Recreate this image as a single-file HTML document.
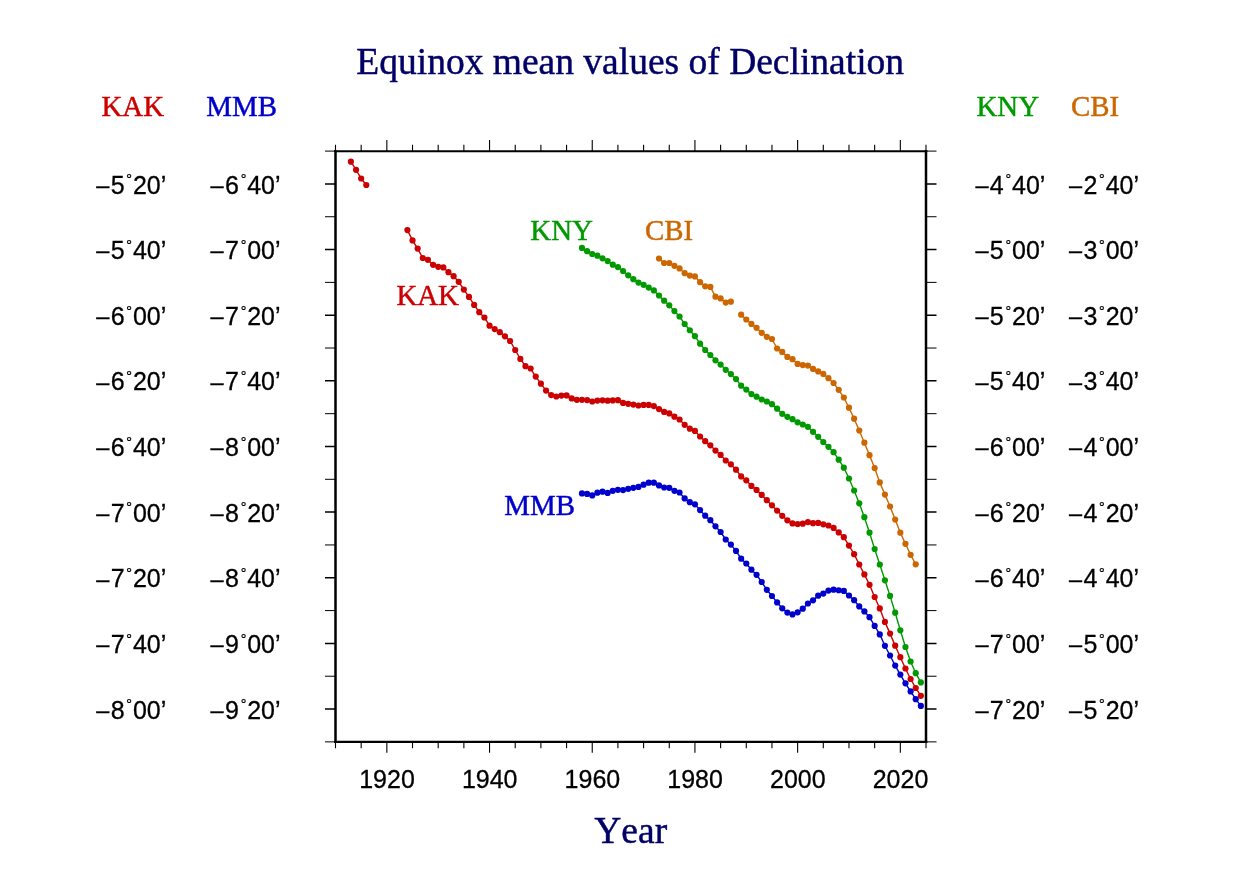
<!DOCTYPE html>
<html><head><meta charset="utf-8"><title>Equinox mean values of Declination</title>
<style>html,body{margin:0;padding:0;background:#fff;overflow:hidden;width:1235px;height:893px;}svg{display:block;}text{font-kerning:none;}</style></head>
<body><svg width="1235" height="893" viewBox="0 0 1235 893">
<rect width="1235" height="893" fill="#fff"/>
<path d="M335.50 150.05V742.91M926.00 150.05V742.91" stroke="#000" stroke-width="2.5" fill="none"/>
<path d="M334.25 151.25H927.25M334.25 741.86H927.25" stroke="#000" stroke-width="2.1" fill="none"/>
<path d="M325.00 183.92H335.50M926.00 183.92H936.50M325.00 249.56H335.50M926.00 249.56H936.50M325.00 315.20H335.50M926.00 315.20H936.50M325.00 380.84H335.50M926.00 380.84H936.50M325.00 446.48H335.50M926.00 446.48H936.50M325.00 512.12H335.50M926.00 512.12H936.50M325.00 577.76H335.50M926.00 577.76H936.50M325.00 643.40H335.50M926.00 643.40H936.50M325.00 709.04H335.50M926.00 709.04H936.50" stroke="#000" stroke-width="1.5" fill="none"/>
<path d="M325.00 151.10H335.50M926.00 151.10H936.50M325.00 216.74H335.50M926.00 216.74H936.50M325.00 282.38H335.50M926.00 282.38H936.50M325.00 348.02H335.50M926.00 348.02H936.50M325.00 413.66H335.50M926.00 413.66H936.50M325.00 479.30H335.50M926.00 479.30H936.50M325.00 544.94H335.50M926.00 544.94H936.50M325.00 610.58H335.50M926.00 610.58H936.50M325.00 676.22H335.50M926.00 676.22H936.50M325.00 741.86H335.50M926.00 741.86H936.50" stroke="#000" stroke-width="1.0" fill="none"/>
<path d="M335.50 151.10V144.80M335.50 741.86V748.16M361.17 151.10V144.80M361.17 741.86V748.16M386.85 151.10V140.10M386.85 741.86V752.86M412.52 151.10V144.80M412.52 741.86V748.16M438.20 151.10V144.80M438.20 741.86V748.16M463.87 151.10V144.80M463.87 741.86V748.16M489.54 151.10V140.10M489.54 741.86V752.86M515.22 151.10V144.80M515.22 741.86V748.16M540.89 151.10V144.80M540.89 741.86V748.16M566.57 151.10V144.80M566.57 741.86V748.16M592.24 151.10V140.10M592.24 741.86V752.86M617.91 151.10V144.80M617.91 741.86V748.16M643.59 151.10V144.80M643.59 741.86V748.16M669.26 151.10V144.80M669.26 741.86V748.16M694.93 151.10V140.10M694.93 741.86V752.86M720.61 151.10V144.80M720.61 741.86V748.16M746.28 151.10V144.80M746.28 741.86V748.16M771.96 151.10V144.80M771.96 741.86V748.16M797.63 151.10V140.10M797.63 741.86V752.86M823.30 151.10V144.80M823.30 741.86V748.16M848.98 151.10V144.80M848.98 741.86V748.16M874.65 151.10V144.80M874.65 741.86V748.16M900.33 151.10V140.10M900.33 741.86V752.86M926.00 151.10V144.80M926.00 741.86V748.16" stroke="#000" stroke-width="1.1" fill="none"/>
<g font-family="'Liberation Sans', Arial, Helvetica, sans-serif" font-size="25" fill="#000" stroke="#000" stroke-width="0.3"><text x="166.3" y="193.5" text-anchor="end"><tspan font-size="23.5" dy="-0.8">–</tspan><tspan dx="1.3" dy="0.8">5</tspan><tspan font-size="18" stroke-width="0.1" dx="2.00" dy="-4.3">˚</tspan><tspan dx="0.33" dy="4.3">20’</tspan></text><text x="280.6" y="193.5" text-anchor="end"><tspan font-size="23.5" dy="-0.8">–</tspan><tspan dx="1.3" dy="0.8">6</tspan><tspan font-size="18" stroke-width="0.1" dx="2.00" dy="-4.3">˚</tspan><tspan dx="0.33" dy="4.3">40’</tspan></text><text x="1045.4" y="193.5" text-anchor="end"><tspan font-size="23.5" dy="-0.8">–</tspan><tspan dx="1.3" dy="0.8">4</tspan><tspan font-size="18" stroke-width="0.1" dx="2.00" dy="-4.3">˚</tspan><tspan dx="0.33" dy="4.3">40’</tspan></text><text x="1139.0" y="193.5" text-anchor="end"><tspan font-size="23.5" dy="-0.8">–</tspan><tspan dx="1.3" dy="0.8">2</tspan><tspan font-size="18" stroke-width="0.1" dx="2.00" dy="-4.3">˚</tspan><tspan dx="0.33" dy="4.3">40’</tspan></text><text x="166.3" y="259.2" text-anchor="end"><tspan font-size="23.5" dy="-0.8">–</tspan><tspan dx="1.3" dy="0.8">5</tspan><tspan font-size="18" stroke-width="0.1" dx="2.00" dy="-4.3">˚</tspan><tspan dx="0.33" dy="4.3">40’</tspan></text><text x="280.6" y="259.2" text-anchor="end"><tspan font-size="23.5" dy="-0.8">–</tspan><tspan dx="1.3" dy="0.8">7</tspan><tspan font-size="18" stroke-width="0.1" dx="2.00" dy="-4.3">˚</tspan><tspan dx="0.33" dy="4.3">00’</tspan></text><text x="1045.4" y="259.2" text-anchor="end"><tspan font-size="23.5" dy="-0.8">–</tspan><tspan dx="1.3" dy="0.8">5</tspan><tspan font-size="18" stroke-width="0.1" dx="2.00" dy="-4.3">˚</tspan><tspan dx="0.33" dy="4.3">00’</tspan></text><text x="1139.0" y="259.2" text-anchor="end"><tspan font-size="23.5" dy="-0.8">–</tspan><tspan dx="1.3" dy="0.8">3</tspan><tspan font-size="18" stroke-width="0.1" dx="2.00" dy="-4.3">˚</tspan><tspan dx="0.33" dy="4.3">00’</tspan></text><text x="166.3" y="324.8" text-anchor="end"><tspan font-size="23.5" dy="-0.8">–</tspan><tspan dx="1.3" dy="0.8">6</tspan><tspan font-size="18" stroke-width="0.1" dx="2.00" dy="-4.3">˚</tspan><tspan dx="0.33" dy="4.3">00’</tspan></text><text x="280.6" y="324.8" text-anchor="end"><tspan font-size="23.5" dy="-0.8">–</tspan><tspan dx="1.3" dy="0.8">7</tspan><tspan font-size="18" stroke-width="0.1" dx="2.00" dy="-4.3">˚</tspan><tspan dx="0.33" dy="4.3">20’</tspan></text><text x="1045.4" y="324.8" text-anchor="end"><tspan font-size="23.5" dy="-0.8">–</tspan><tspan dx="1.3" dy="0.8">5</tspan><tspan font-size="18" stroke-width="0.1" dx="2.00" dy="-4.3">˚</tspan><tspan dx="0.33" dy="4.3">20’</tspan></text><text x="1139.0" y="324.8" text-anchor="end"><tspan font-size="23.5" dy="-0.8">–</tspan><tspan dx="1.3" dy="0.8">3</tspan><tspan font-size="18" stroke-width="0.1" dx="2.00" dy="-4.3">˚</tspan><tspan dx="0.33" dy="4.3">20’</tspan></text><text x="166.3" y="390.4" text-anchor="end"><tspan font-size="23.5" dy="-0.8">–</tspan><tspan dx="1.3" dy="0.8">6</tspan><tspan font-size="18" stroke-width="0.1" dx="2.00" dy="-4.3">˚</tspan><tspan dx="0.33" dy="4.3">20’</tspan></text><text x="280.6" y="390.4" text-anchor="end"><tspan font-size="23.5" dy="-0.8">–</tspan><tspan dx="1.3" dy="0.8">7</tspan><tspan font-size="18" stroke-width="0.1" dx="2.00" dy="-4.3">˚</tspan><tspan dx="0.33" dy="4.3">40’</tspan></text><text x="1045.4" y="390.4" text-anchor="end"><tspan font-size="23.5" dy="-0.8">–</tspan><tspan dx="1.3" dy="0.8">5</tspan><tspan font-size="18" stroke-width="0.1" dx="2.00" dy="-4.3">˚</tspan><tspan dx="0.33" dy="4.3">40’</tspan></text><text x="1139.0" y="390.4" text-anchor="end"><tspan font-size="23.5" dy="-0.8">–</tspan><tspan dx="1.3" dy="0.8">3</tspan><tspan font-size="18" stroke-width="0.1" dx="2.00" dy="-4.3">˚</tspan><tspan dx="0.33" dy="4.3">40’</tspan></text><text x="166.3" y="456.1" text-anchor="end"><tspan font-size="23.5" dy="-0.8">–</tspan><tspan dx="1.3" dy="0.8">6</tspan><tspan font-size="18" stroke-width="0.1" dx="2.00" dy="-4.3">˚</tspan><tspan dx="0.33" dy="4.3">40’</tspan></text><text x="280.6" y="456.1" text-anchor="end"><tspan font-size="23.5" dy="-0.8">–</tspan><tspan dx="1.3" dy="0.8">8</tspan><tspan font-size="18" stroke-width="0.1" dx="2.00" dy="-4.3">˚</tspan><tspan dx="0.33" dy="4.3">00’</tspan></text><text x="1045.4" y="456.1" text-anchor="end"><tspan font-size="23.5" dy="-0.8">–</tspan><tspan dx="1.3" dy="0.8">6</tspan><tspan font-size="18" stroke-width="0.1" dx="2.00" dy="-4.3">˚</tspan><tspan dx="0.33" dy="4.3">00’</tspan></text><text x="1139.0" y="456.1" text-anchor="end"><tspan font-size="23.5" dy="-0.8">–</tspan><tspan dx="1.3" dy="0.8">4</tspan><tspan font-size="18" stroke-width="0.1" dx="2.00" dy="-4.3">˚</tspan><tspan dx="0.33" dy="4.3">00’</tspan></text><text x="166.3" y="521.7" text-anchor="end"><tspan font-size="23.5" dy="-0.8">–</tspan><tspan dx="1.3" dy="0.8">7</tspan><tspan font-size="18" stroke-width="0.1" dx="2.00" dy="-4.3">˚</tspan><tspan dx="0.33" dy="4.3">00’</tspan></text><text x="280.6" y="521.7" text-anchor="end"><tspan font-size="23.5" dy="-0.8">–</tspan><tspan dx="1.3" dy="0.8">8</tspan><tspan font-size="18" stroke-width="0.1" dx="2.00" dy="-4.3">˚</tspan><tspan dx="0.33" dy="4.3">20’</tspan></text><text x="1045.4" y="521.7" text-anchor="end"><tspan font-size="23.5" dy="-0.8">–</tspan><tspan dx="1.3" dy="0.8">6</tspan><tspan font-size="18" stroke-width="0.1" dx="2.00" dy="-4.3">˚</tspan><tspan dx="0.33" dy="4.3">20’</tspan></text><text x="1139.0" y="521.7" text-anchor="end"><tspan font-size="23.5" dy="-0.8">–</tspan><tspan dx="1.3" dy="0.8">4</tspan><tspan font-size="18" stroke-width="0.1" dx="2.00" dy="-4.3">˚</tspan><tspan dx="0.33" dy="4.3">20’</tspan></text><text x="166.3" y="587.4" text-anchor="end"><tspan font-size="23.5" dy="-0.8">–</tspan><tspan dx="1.3" dy="0.8">7</tspan><tspan font-size="18" stroke-width="0.1" dx="2.00" dy="-4.3">˚</tspan><tspan dx="0.33" dy="4.3">20’</tspan></text><text x="280.6" y="587.4" text-anchor="end"><tspan font-size="23.5" dy="-0.8">–</tspan><tspan dx="1.3" dy="0.8">8</tspan><tspan font-size="18" stroke-width="0.1" dx="2.00" dy="-4.3">˚</tspan><tspan dx="0.33" dy="4.3">40’</tspan></text><text x="1045.4" y="587.4" text-anchor="end"><tspan font-size="23.5" dy="-0.8">–</tspan><tspan dx="1.3" dy="0.8">6</tspan><tspan font-size="18" stroke-width="0.1" dx="2.00" dy="-4.3">˚</tspan><tspan dx="0.33" dy="4.3">40’</tspan></text><text x="1139.0" y="587.4" text-anchor="end"><tspan font-size="23.5" dy="-0.8">–</tspan><tspan dx="1.3" dy="0.8">4</tspan><tspan font-size="18" stroke-width="0.1" dx="2.00" dy="-4.3">˚</tspan><tspan dx="0.33" dy="4.3">40’</tspan></text><text x="166.3" y="653.0" text-anchor="end"><tspan font-size="23.5" dy="-0.8">–</tspan><tspan dx="1.3" dy="0.8">7</tspan><tspan font-size="18" stroke-width="0.1" dx="2.00" dy="-4.3">˚</tspan><tspan dx="0.33" dy="4.3">40’</tspan></text><text x="280.6" y="653.0" text-anchor="end"><tspan font-size="23.5" dy="-0.8">–</tspan><tspan dx="1.3" dy="0.8">9</tspan><tspan font-size="18" stroke-width="0.1" dx="2.00" dy="-4.3">˚</tspan><tspan dx="0.33" dy="4.3">00’</tspan></text><text x="1045.4" y="653.0" text-anchor="end"><tspan font-size="23.5" dy="-0.8">–</tspan><tspan dx="1.3" dy="0.8">7</tspan><tspan font-size="18" stroke-width="0.1" dx="2.00" dy="-4.3">˚</tspan><tspan dx="0.33" dy="4.3">00’</tspan></text><text x="1139.0" y="653.0" text-anchor="end"><tspan font-size="23.5" dy="-0.8">–</tspan><tspan dx="1.3" dy="0.8">5</tspan><tspan font-size="18" stroke-width="0.1" dx="2.00" dy="-4.3">˚</tspan><tspan dx="0.33" dy="4.3">00’</tspan></text><text x="166.3" y="718.6" text-anchor="end"><tspan font-size="23.5" dy="-0.8">–</tspan><tspan dx="1.3" dy="0.8">8</tspan><tspan font-size="18" stroke-width="0.1" dx="2.00" dy="-4.3">˚</tspan><tspan dx="0.33" dy="4.3">00’</tspan></text><text x="280.6" y="718.6" text-anchor="end"><tspan font-size="23.5" dy="-0.8">–</tspan><tspan dx="1.3" dy="0.8">9</tspan><tspan font-size="18" stroke-width="0.1" dx="2.00" dy="-4.3">˚</tspan><tspan dx="0.33" dy="4.3">20’</tspan></text><text x="1045.4" y="718.6" text-anchor="end"><tspan font-size="23.5" dy="-0.8">–</tspan><tspan dx="1.3" dy="0.8">7</tspan><tspan font-size="18" stroke-width="0.1" dx="2.00" dy="-4.3">˚</tspan><tspan dx="0.33" dy="4.3">20’</tspan></text><text x="1139.0" y="718.6" text-anchor="end"><tspan font-size="23.5" dy="-0.8">–</tspan><tspan dx="1.3" dy="0.8">5</tspan><tspan font-size="18" stroke-width="0.1" dx="2.00" dy="-4.3">˚</tspan><tspan dx="0.33" dy="4.3">20’</tspan></text></g>
<g font-family="'Liberation Sans', Arial, Helvetica, sans-serif" font-size="25" fill="#000" stroke="#000" stroke-width="0.3"><text x="387.0" y="788.4" text-anchor="middle">1920</text><text x="489.7" y="788.4" text-anchor="middle">1940</text><text x="592.4" y="788.4" text-anchor="middle">1960</text><text x="695.1" y="788.4" text-anchor="middle">1980</text><text x="797.8" y="788.4" text-anchor="middle">2000</text><text x="900.5" y="788.4" text-anchor="middle">2020</text></g>
<polyline points="350.90,161.70 356.04,169.80 361.17,178.50 366.31,185.00" fill="none" stroke="#cc0000" stroke-width="1.40"/>
<polyline points="407.39,230.10 412.52,240.40 417.66,248.60 422.79,258.00 427.93,259.80 433.06,264.80 438.20,266.80 443.33,267.40 448.47,272.20 453.60,276.20 458.73,281.80 463.87,289.60 469.00,296.90 474.14,304.90 479.27,312.20 484.41,317.50 489.54,325.70 494.68,329.10 499.81,332.20 504.95,336.30 510.08,341.00 515.22,350.00 520.35,358.90 525.49,366.20 530.62,368.50 535.76,376.60 540.89,383.70 546.03,390.60 551.16,395.10 556.30,396.50 561.43,395.60 566.57,395.40 571.70,398.40 576.83,399.80 581.97,399.80 587.10,400.10 592.24,401.50 597.37,400.60 602.51,400.30 607.64,400.70 612.78,400.40 617.91,400.20 623.05,402.90 628.18,403.80 633.32,404.60 638.45,405.50 643.59,404.90 648.72,404.90 653.86,406.10 658.99,409.10 664.13,411.90 669.26,413.40 674.40,416.70 679.53,419.50 684.67,424.80 689.80,428.70 694.93,430.90 700.07,436.50 705.20,441.20 710.34,445.35 715.47,450.60 720.61,454.90 725.74,460.50 730.88,464.30 736.01,469.70 741.15,476.40 746.28,480.30 751.42,485.90 756.55,489.90 761.69,494.90 766.82,500.20 771.96,505.30 777.09,510.60 782.23,515.80 787.36,520.30 792.50,523.40 797.63,524.00 802.77,523.70 807.90,522.10 813.03,523.20 818.17,522.90 823.30,524.30 828.44,525.50 833.57,527.90 838.71,532.40 843.84,537.20 848.98,545.60 854.11,554.20 859.25,564.50 864.38,574.40 869.52,584.80 874.65,597.00 879.79,608.40 884.92,621.90 890.06,633.60 895.19,645.70 900.33,657.20 905.46,668.50 910.60,679.00 915.73,688.00 920.87,695.80" fill="none" stroke="#cc0000" stroke-width="1.40"/>
<g fill="#cc0000"><circle cx="350.90" cy="161.70" r="3.10"/><circle cx="356.04" cy="169.80" r="3.10"/><circle cx="361.17" cy="178.50" r="3.10"/><circle cx="366.31" cy="185.00" r="3.10"/><circle cx="407.39" cy="230.10" r="3.10"/><circle cx="412.52" cy="240.40" r="3.10"/><circle cx="417.66" cy="248.60" r="3.10"/><circle cx="422.79" cy="258.00" r="3.10"/><circle cx="427.93" cy="259.80" r="3.10"/><circle cx="433.06" cy="264.80" r="3.10"/><circle cx="438.20" cy="266.80" r="3.10"/><circle cx="443.33" cy="267.40" r="3.10"/><circle cx="448.47" cy="272.20" r="3.10"/><circle cx="453.60" cy="276.20" r="3.10"/><circle cx="458.73" cy="281.80" r="3.10"/><circle cx="463.87" cy="289.60" r="3.10"/><circle cx="469.00" cy="296.90" r="3.10"/><circle cx="474.14" cy="304.90" r="3.10"/><circle cx="479.27" cy="312.20" r="3.10"/><circle cx="484.41" cy="317.50" r="3.10"/><circle cx="489.54" cy="325.70" r="3.10"/><circle cx="494.68" cy="329.10" r="3.10"/><circle cx="499.81" cy="332.20" r="3.10"/><circle cx="504.95" cy="336.30" r="3.10"/><circle cx="510.08" cy="341.00" r="3.10"/><circle cx="515.22" cy="350.00" r="3.10"/><circle cx="520.35" cy="358.90" r="3.10"/><circle cx="525.49" cy="366.20" r="3.10"/><circle cx="530.62" cy="368.50" r="3.10"/><circle cx="535.76" cy="376.60" r="3.10"/><circle cx="540.89" cy="383.70" r="3.10"/><circle cx="546.03" cy="390.60" r="3.10"/><circle cx="551.16" cy="395.10" r="3.10"/><circle cx="556.30" cy="396.50" r="3.10"/><circle cx="561.43" cy="395.60" r="3.10"/><circle cx="566.57" cy="395.40" r="3.10"/><circle cx="571.70" cy="398.40" r="3.10"/><circle cx="576.83" cy="399.80" r="3.10"/><circle cx="581.97" cy="399.80" r="3.10"/><circle cx="587.10" cy="400.10" r="3.10"/><circle cx="592.24" cy="401.50" r="3.10"/><circle cx="597.37" cy="400.60" r="3.10"/><circle cx="602.51" cy="400.30" r="3.10"/><circle cx="607.64" cy="400.70" r="3.10"/><circle cx="612.78" cy="400.40" r="3.10"/><circle cx="617.91" cy="400.20" r="3.10"/><circle cx="623.05" cy="402.90" r="3.10"/><circle cx="628.18" cy="403.80" r="3.10"/><circle cx="633.32" cy="404.60" r="3.10"/><circle cx="638.45" cy="405.50" r="3.10"/><circle cx="643.59" cy="404.90" r="3.10"/><circle cx="648.72" cy="404.90" r="3.10"/><circle cx="653.86" cy="406.10" r="3.10"/><circle cx="658.99" cy="409.10" r="3.10"/><circle cx="664.13" cy="411.90" r="3.10"/><circle cx="669.26" cy="413.40" r="3.10"/><circle cx="674.40" cy="416.70" r="3.10"/><circle cx="679.53" cy="419.50" r="3.10"/><circle cx="684.67" cy="424.80" r="3.10"/><circle cx="689.80" cy="428.70" r="3.10"/><circle cx="694.93" cy="430.90" r="3.10"/><circle cx="700.07" cy="436.50" r="3.10"/><circle cx="705.20" cy="441.20" r="3.10"/><circle cx="710.34" cy="445.35" r="3.10"/><circle cx="715.47" cy="450.60" r="3.10"/><circle cx="720.61" cy="454.90" r="3.10"/><circle cx="725.74" cy="460.50" r="3.10"/><circle cx="730.88" cy="464.30" r="3.10"/><circle cx="736.01" cy="469.70" r="3.10"/><circle cx="741.15" cy="476.40" r="3.10"/><circle cx="746.28" cy="480.30" r="3.10"/><circle cx="751.42" cy="485.90" r="3.10"/><circle cx="756.55" cy="489.90" r="3.10"/><circle cx="761.69" cy="494.90" r="3.10"/><circle cx="766.82" cy="500.20" r="3.10"/><circle cx="771.96" cy="505.30" r="3.10"/><circle cx="777.09" cy="510.60" r="3.10"/><circle cx="782.23" cy="515.80" r="3.10"/><circle cx="787.36" cy="520.30" r="3.10"/><circle cx="792.50" cy="523.40" r="3.10"/><circle cx="797.63" cy="524.00" r="3.10"/><circle cx="802.77" cy="523.70" r="3.10"/><circle cx="807.90" cy="522.10" r="3.10"/><circle cx="813.03" cy="523.20" r="3.10"/><circle cx="818.17" cy="522.90" r="3.10"/><circle cx="823.30" cy="524.30" r="3.10"/><circle cx="828.44" cy="525.50" r="3.10"/><circle cx="833.57" cy="527.90" r="3.10"/><circle cx="838.71" cy="532.40" r="3.10"/><circle cx="843.84" cy="537.20" r="3.10"/><circle cx="848.98" cy="545.60" r="3.10"/><circle cx="854.11" cy="554.20" r="3.10"/><circle cx="859.25" cy="564.50" r="3.10"/><circle cx="864.38" cy="574.40" r="3.10"/><circle cx="869.52" cy="584.80" r="3.10"/><circle cx="874.65" cy="597.00" r="3.10"/><circle cx="879.79" cy="608.40" r="3.10"/><circle cx="884.92" cy="621.90" r="3.10"/><circle cx="890.06" cy="633.60" r="3.10"/><circle cx="895.19" cy="645.70" r="3.10"/><circle cx="900.33" cy="657.20" r="3.10"/><circle cx="905.46" cy="668.50" r="3.10"/><circle cx="910.60" cy="679.00" r="3.10"/><circle cx="915.73" cy="688.00" r="3.10"/><circle cx="920.87" cy="695.80" r="3.10"/></g>
<polyline points="581.97,493.40 587.10,493.90 592.24,495.40 597.37,492.70 602.51,491.70 607.64,492.90 612.78,490.80 617.91,489.80 623.05,490.10 628.18,488.80 633.32,487.80 638.45,486.90 643.59,484.70 648.72,482.70 653.86,482.70 658.99,485.40 664.13,487.50 669.26,487.80 674.40,490.80 679.53,492.50 684.67,498.45 689.80,502.20 694.93,504.30 700.07,510.10 705.20,515.70 710.34,520.20 715.47,526.30 720.61,532.00 725.74,539.50 730.88,544.60 736.01,550.90 741.15,558.70 746.28,563.50 751.42,569.70 756.55,574.80 761.69,582.00 766.82,589.80 771.96,596.00 777.09,602.40 782.23,608.30 787.36,612.60 792.50,614.45 797.63,612.35 802.77,608.70 807.90,603.50 813.03,600.30 818.17,595.70 823.30,593.60 828.44,590.55 833.57,589.65 838.71,590.25 843.84,590.90 848.98,595.50 854.11,600.20 859.25,606.40 864.38,611.40 869.52,617.20 874.65,625.90 879.79,634.40 884.92,645.80 890.06,655.50 895.19,665.60 900.33,674.60 905.46,683.30 910.60,691.40 915.73,699.20 920.87,705.90" fill="none" stroke="#0000cc" stroke-width="1.40"/>
<g fill="#0000cc"><circle cx="581.97" cy="493.40" r="3.10"/><circle cx="587.10" cy="493.90" r="3.10"/><circle cx="592.24" cy="495.40" r="3.10"/><circle cx="597.37" cy="492.70" r="3.10"/><circle cx="602.51" cy="491.70" r="3.10"/><circle cx="607.64" cy="492.90" r="3.10"/><circle cx="612.78" cy="490.80" r="3.10"/><circle cx="617.91" cy="489.80" r="3.10"/><circle cx="623.05" cy="490.10" r="3.10"/><circle cx="628.18" cy="488.80" r="3.10"/><circle cx="633.32" cy="487.80" r="3.10"/><circle cx="638.45" cy="486.90" r="3.10"/><circle cx="643.59" cy="484.70" r="3.10"/><circle cx="648.72" cy="482.70" r="3.10"/><circle cx="653.86" cy="482.70" r="3.10"/><circle cx="658.99" cy="485.40" r="3.10"/><circle cx="664.13" cy="487.50" r="3.10"/><circle cx="669.26" cy="487.80" r="3.10"/><circle cx="674.40" cy="490.80" r="3.10"/><circle cx="679.53" cy="492.50" r="3.10"/><circle cx="684.67" cy="498.45" r="3.10"/><circle cx="689.80" cy="502.20" r="3.10"/><circle cx="694.93" cy="504.30" r="3.10"/><circle cx="700.07" cy="510.10" r="3.10"/><circle cx="705.20" cy="515.70" r="3.10"/><circle cx="710.34" cy="520.20" r="3.10"/><circle cx="715.47" cy="526.30" r="3.10"/><circle cx="720.61" cy="532.00" r="3.10"/><circle cx="725.74" cy="539.50" r="3.10"/><circle cx="730.88" cy="544.60" r="3.10"/><circle cx="736.01" cy="550.90" r="3.10"/><circle cx="741.15" cy="558.70" r="3.10"/><circle cx="746.28" cy="563.50" r="3.10"/><circle cx="751.42" cy="569.70" r="3.10"/><circle cx="756.55" cy="574.80" r="3.10"/><circle cx="761.69" cy="582.00" r="3.10"/><circle cx="766.82" cy="589.80" r="3.10"/><circle cx="771.96" cy="596.00" r="3.10"/><circle cx="777.09" cy="602.40" r="3.10"/><circle cx="782.23" cy="608.30" r="3.10"/><circle cx="787.36" cy="612.60" r="3.10"/><circle cx="792.50" cy="614.45" r="3.10"/><circle cx="797.63" cy="612.35" r="3.10"/><circle cx="802.77" cy="608.70" r="3.10"/><circle cx="807.90" cy="603.50" r="3.10"/><circle cx="813.03" cy="600.30" r="3.10"/><circle cx="818.17" cy="595.70" r="3.10"/><circle cx="823.30" cy="593.60" r="3.10"/><circle cx="828.44" cy="590.55" r="3.10"/><circle cx="833.57" cy="589.65" r="3.10"/><circle cx="838.71" cy="590.25" r="3.10"/><circle cx="843.84" cy="590.90" r="3.10"/><circle cx="848.98" cy="595.50" r="3.10"/><circle cx="854.11" cy="600.20" r="3.10"/><circle cx="859.25" cy="606.40" r="3.10"/><circle cx="864.38" cy="611.40" r="3.10"/><circle cx="869.52" cy="617.20" r="3.10"/><circle cx="874.65" cy="625.90" r="3.10"/><circle cx="879.79" cy="634.40" r="3.10"/><circle cx="884.92" cy="645.80" r="3.10"/><circle cx="890.06" cy="655.50" r="3.10"/><circle cx="895.19" cy="665.60" r="3.10"/><circle cx="900.33" cy="674.60" r="3.10"/><circle cx="905.46" cy="683.30" r="3.10"/><circle cx="910.60" cy="691.40" r="3.10"/><circle cx="915.73" cy="699.20" r="3.10"/><circle cx="920.87" cy="705.90" r="3.10"/></g>
<polyline points="581.97,247.90 587.10,251.20 592.24,254.00 597.37,255.70 602.51,258.30 607.64,261.10 612.78,264.70 617.91,267.10 623.05,271.00 628.18,275.30 633.32,279.20 638.45,282.60 643.59,284.80 648.72,287.60 653.86,290.40 658.99,295.50 664.13,300.70 669.26,305.30 674.40,311.10 679.53,316.50 684.67,324.00 689.80,330.25 694.93,336.20 700.07,343.70 705.20,350.00 710.34,355.00 715.47,360.30 720.61,364.60 725.74,369.80 730.88,374.10 736.01,379.10 741.15,385.70 746.28,389.60 751.42,394.10 756.55,396.70 761.69,399.50 766.82,401.50 771.96,404.20 777.09,408.70 782.23,413.80 787.36,416.80 792.50,419.20 797.63,422.30 802.77,424.50 807.90,426.80 813.03,431.80 818.17,436.80 823.30,442.00 828.44,446.80 833.57,452.20 838.71,459.70 843.84,467.70 848.98,478.50 854.11,490.50 859.25,503.30 864.38,517.20 869.52,532.70 874.65,549.00 879.79,564.50 884.92,580.30 890.06,595.90 895.19,612.70 900.33,630.30 905.46,647.00 910.60,661.50 915.73,673.20 920.87,682.40" fill="none" stroke="#009900" stroke-width="1.40"/>
<g fill="#009900"><circle cx="581.97" cy="247.90" r="3.10"/><circle cx="587.10" cy="251.20" r="3.10"/><circle cx="592.24" cy="254.00" r="3.10"/><circle cx="597.37" cy="255.70" r="3.10"/><circle cx="602.51" cy="258.30" r="3.10"/><circle cx="607.64" cy="261.10" r="3.10"/><circle cx="612.78" cy="264.70" r="3.10"/><circle cx="617.91" cy="267.10" r="3.10"/><circle cx="623.05" cy="271.00" r="3.10"/><circle cx="628.18" cy="275.30" r="3.10"/><circle cx="633.32" cy="279.20" r="3.10"/><circle cx="638.45" cy="282.60" r="3.10"/><circle cx="643.59" cy="284.80" r="3.10"/><circle cx="648.72" cy="287.60" r="3.10"/><circle cx="653.86" cy="290.40" r="3.10"/><circle cx="658.99" cy="295.50" r="3.10"/><circle cx="664.13" cy="300.70" r="3.10"/><circle cx="669.26" cy="305.30" r="3.10"/><circle cx="674.40" cy="311.10" r="3.10"/><circle cx="679.53" cy="316.50" r="3.10"/><circle cx="684.67" cy="324.00" r="3.10"/><circle cx="689.80" cy="330.25" r="3.10"/><circle cx="694.93" cy="336.20" r="3.10"/><circle cx="700.07" cy="343.70" r="3.10"/><circle cx="705.20" cy="350.00" r="3.10"/><circle cx="710.34" cy="355.00" r="3.10"/><circle cx="715.47" cy="360.30" r="3.10"/><circle cx="720.61" cy="364.60" r="3.10"/><circle cx="725.74" cy="369.80" r="3.10"/><circle cx="730.88" cy="374.10" r="3.10"/><circle cx="736.01" cy="379.10" r="3.10"/><circle cx="741.15" cy="385.70" r="3.10"/><circle cx="746.28" cy="389.60" r="3.10"/><circle cx="751.42" cy="394.10" r="3.10"/><circle cx="756.55" cy="396.70" r="3.10"/><circle cx="761.69" cy="399.50" r="3.10"/><circle cx="766.82" cy="401.50" r="3.10"/><circle cx="771.96" cy="404.20" r="3.10"/><circle cx="777.09" cy="408.70" r="3.10"/><circle cx="782.23" cy="413.80" r="3.10"/><circle cx="787.36" cy="416.80" r="3.10"/><circle cx="792.50" cy="419.20" r="3.10"/><circle cx="797.63" cy="422.30" r="3.10"/><circle cx="802.77" cy="424.50" r="3.10"/><circle cx="807.90" cy="426.80" r="3.10"/><circle cx="813.03" cy="431.80" r="3.10"/><circle cx="818.17" cy="436.80" r="3.10"/><circle cx="823.30" cy="442.00" r="3.10"/><circle cx="828.44" cy="446.80" r="3.10"/><circle cx="833.57" cy="452.20" r="3.10"/><circle cx="838.71" cy="459.70" r="3.10"/><circle cx="843.84" cy="467.70" r="3.10"/><circle cx="848.98" cy="478.50" r="3.10"/><circle cx="854.11" cy="490.50" r="3.10"/><circle cx="859.25" cy="503.30" r="3.10"/><circle cx="864.38" cy="517.20" r="3.10"/><circle cx="869.52" cy="532.70" r="3.10"/><circle cx="874.65" cy="549.00" r="3.10"/><circle cx="879.79" cy="564.50" r="3.10"/><circle cx="884.92" cy="580.30" r="3.10"/><circle cx="890.06" cy="595.90" r="3.10"/><circle cx="895.19" cy="612.70" r="3.10"/><circle cx="900.33" cy="630.30" r="3.10"/><circle cx="905.46" cy="647.00" r="3.10"/><circle cx="910.60" cy="661.50" r="3.10"/><circle cx="915.73" cy="673.20" r="3.10"/><circle cx="920.87" cy="682.40" r="3.10"/></g>
<polyline points="658.99,258.50 664.13,263.00 669.26,263.00 674.40,265.80 679.53,268.45 684.67,273.20 689.80,275.60 694.93,276.40 700.07,282.20 705.20,286.30 710.34,286.90 715.47,296.70 720.61,298.40 725.74,302.60 730.88,301.70" fill="none" stroke="#cc6600" stroke-width="1.40"/>
<polyline points="741.15,314.70 746.28,319.50 751.42,323.90 756.55,327.85 761.69,332.85 766.82,336.80 771.96,339.00 777.09,348.50 782.23,351.90 787.36,356.90 792.50,359.20 797.63,363.90 802.77,365.10 807.90,365.60 813.03,368.90 818.17,371.40 823.30,373.90 828.44,378.20 833.57,383.00 838.71,389.80 843.84,397.50 848.98,407.70 854.11,418.70 859.25,430.50 864.38,442.70 869.52,455.20 874.65,468.10 879.79,482.40 884.92,494.60 890.06,506.50 895.19,519.55 900.33,532.70 905.46,543.80 910.60,554.80 915.73,564.30" fill="none" stroke="#cc6600" stroke-width="1.40"/>
<g fill="#cc6600"><circle cx="658.99" cy="258.50" r="3.10"/><circle cx="664.13" cy="263.00" r="3.10"/><circle cx="669.26" cy="263.00" r="3.10"/><circle cx="674.40" cy="265.80" r="3.10"/><circle cx="679.53" cy="268.45" r="3.10"/><circle cx="684.67" cy="273.20" r="3.10"/><circle cx="689.80" cy="275.60" r="3.10"/><circle cx="694.93" cy="276.40" r="3.10"/><circle cx="700.07" cy="282.20" r="3.10"/><circle cx="705.20" cy="286.30" r="3.10"/><circle cx="710.34" cy="286.90" r="3.10"/><circle cx="715.47" cy="296.70" r="3.10"/><circle cx="720.61" cy="298.40" r="3.10"/><circle cx="725.74" cy="302.60" r="3.10"/><circle cx="730.88" cy="301.70" r="3.10"/><circle cx="741.15" cy="314.70" r="3.10"/><circle cx="746.28" cy="319.50" r="3.10"/><circle cx="751.42" cy="323.90" r="3.10"/><circle cx="756.55" cy="327.85" r="3.10"/><circle cx="761.69" cy="332.85" r="3.10"/><circle cx="766.82" cy="336.80" r="3.10"/><circle cx="771.96" cy="339.00" r="3.10"/><circle cx="777.09" cy="348.50" r="3.10"/><circle cx="782.23" cy="351.90" r="3.10"/><circle cx="787.36" cy="356.90" r="3.10"/><circle cx="792.50" cy="359.20" r="3.10"/><circle cx="797.63" cy="363.90" r="3.10"/><circle cx="802.77" cy="365.10" r="3.10"/><circle cx="807.90" cy="365.60" r="3.10"/><circle cx="813.03" cy="368.90" r="3.10"/><circle cx="818.17" cy="371.40" r="3.10"/><circle cx="823.30" cy="373.90" r="3.10"/><circle cx="828.44" cy="378.20" r="3.10"/><circle cx="833.57" cy="383.00" r="3.10"/><circle cx="838.71" cy="389.80" r="3.10"/><circle cx="843.84" cy="397.50" r="3.10"/><circle cx="848.98" cy="407.70" r="3.10"/><circle cx="854.11" cy="418.70" r="3.10"/><circle cx="859.25" cy="430.50" r="3.10"/><circle cx="864.38" cy="442.70" r="3.10"/><circle cx="869.52" cy="455.20" r="3.10"/><circle cx="874.65" cy="468.10" r="3.10"/><circle cx="879.79" cy="482.40" r="3.10"/><circle cx="884.92" cy="494.60" r="3.10"/><circle cx="890.06" cy="506.50" r="3.10"/><circle cx="895.19" cy="519.55" r="3.10"/><circle cx="900.33" cy="532.70" r="3.10"/><circle cx="905.46" cy="543.80" r="3.10"/><circle cx="910.60" cy="554.80" r="3.10"/><circle cx="915.73" cy="564.30" r="3.10"/></g>
<g font-family="'Liberation Serif', 'Times New Roman', serif" stroke-width="0.45"><text x="630.2" y="74" text-anchor="middle" fill="#000066" stroke="#000066" font-size="37.5">Equinox mean values of Declination</text><text x="630.7" y="842.8" text-anchor="middle" fill="#000066" stroke="#000066" font-size="37.5">Year</text><text x="101.5" y="115.8" fill="#cc0000" stroke="#cc0000" font-size="28.9">KAK</text><text x="206.3" y="115.8" fill="#0000cc" stroke="#0000cc" font-size="28.9">MMB</text><text x="976.5" y="115.9" fill="#009900" stroke="#009900" font-size="28.9">KNY</text><text x="1070.9" y="115.9" fill="#cc6600" stroke="#cc6600" font-size="28.9">CBI</text><text x="396.4" y="304.9" fill="#cc0000" stroke="#cc0000" font-size="28.9">KAK</text><text x="530.3" y="240.2" fill="#009900" stroke="#009900" font-size="28.9">KNY</text><text x="645.0" y="240.2" fill="#cc6600" stroke="#cc6600" font-size="28.9">CBI</text><text x="504.3" y="515.0" fill="#0000cc" stroke="#0000cc" font-size="28.9">MMB</text></g>
</svg></body></html>
